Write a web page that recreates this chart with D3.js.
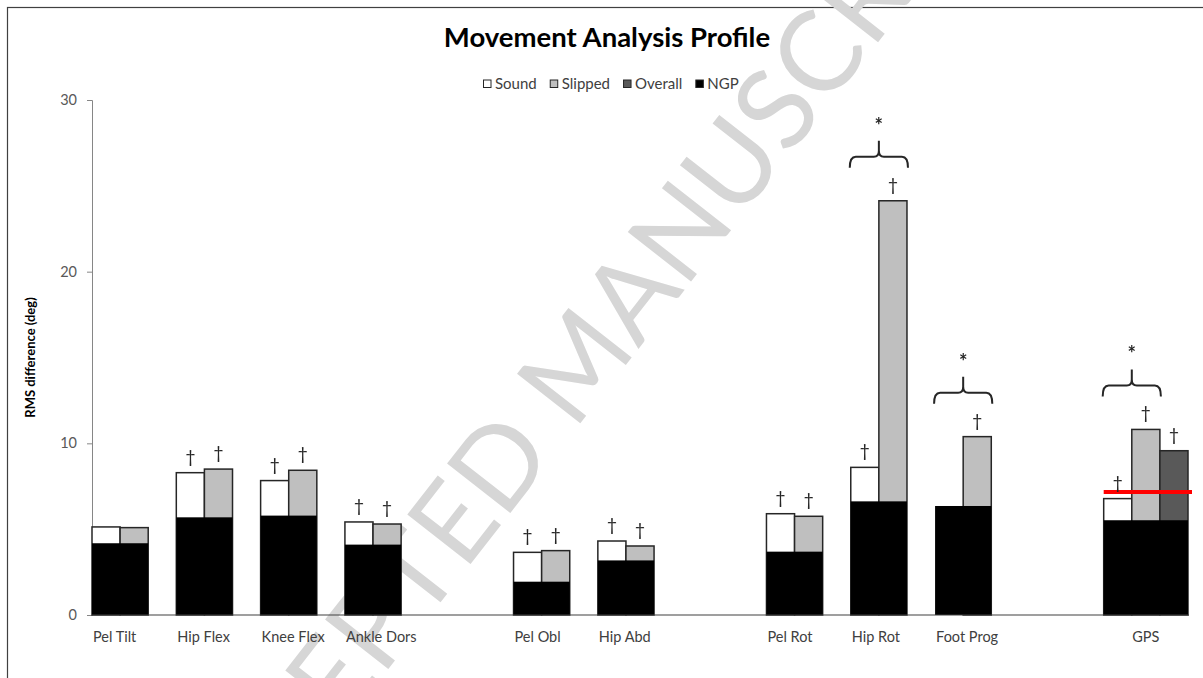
<!DOCTYPE html>
<html>
<head>
<meta charset="utf-8">
<script src="https://cdn.jsdelivr.net/npm/d3@7"></script>
<style>
  html, body { margin: 0; padding: 0; background: #fff; }
  svg { display: block; }
  text { font-family: Lato, "Open Sans", sans-serif; }
</style>
</head>
<body>
<svg id="chart" width="1203" height="678"></svg>
<script>
// Joint-angle slots; blank entries leave a gap between joint groups.
const categories = ["Pel Tilt", "Hip Flex", "Knee Flex", "Ankle Dors", "",
                    "Pel Obl", "Hip Abd", "",
                    "Pel Rot", "Hip Rot", "Foot Prog", "",
                    "GPS"];

// RMS difference (deg) per slot
const ngpValues     = [4.18, 5.69, 5.79, 4.10, null, 1.94, 3.18, null, 3.69, 6.62, 6.35, null, 5.52];
const soundValues   = [5.13, 8.29, 7.83, 5.42, null, 3.65, 4.31, null, 5.90, 8.60, null, null, 6.78];
const slippedValues = [5.09, 8.50, 8.43, 5.30, null, 3.75, 4.02, null, 5.75, 24.13, 10.39, null, 10.81];
const overallValues = [null, null, null, null, null, null, null, null, null, null, null, null, 9.57];

// † markers (difference from normal)
const soundSig   = [false, true, true, true, false, true, true, false, true, true, false, false, true];
const slippedSig = [false, true, true, true, false, true, true, false, true, true, true, false, true];
const overallSig = [false, false, false, false, false, false, false, false, false, false, false, false, true];

// * markers (sound vs slipped)
const groupSig = [false, false, false, false, false, false, false, false, false, true, true, false, true];

// GPS reference level
const gpsReference = 7.17;

const yTicks = [0, 10, 20, 30];

const seriesNames  = ["Sound", "Slipped", "Overall", "NGP"];
const seriesColors = ["#ffffff", "#bfbfbf", "#595959", "#000000"];

const svg = d3.select("#chart");
const W = 1203, H = 678;
const plot = { left: 92, right: 1188, top: 100, bottom: 615 };
const markFont = "'Liberation Sans', Arial, sans-serif";

// Pass-through filter: renders the marker glyphs in their own layer
svg.append("defs").append("filter").attr("id", "flat")
  .append("feOffset").attr("dx", 0).attr("dy", 0);

// Outer chart frame
svg.append("rect")
  .attr("x", 7.5).attr("y", 7.5)
  .attr("width", W + 20).attr("height", H + 20)
  .attr("fill", "none").attr("stroke", "#404040").attr("stroke-width", 1.2);

const x = d3.scaleBand()
  .domain(d3.range(categories.length))
  .range([plot.left, plot.right])
  .paddingInner(0).paddingOuter(0);

const sub = d3.scaleBand()
  .domain([0, 1, 2])
  .range([0, x.bandwidth()]);

const y = d3.scaleLinear().domain([0, 30]).range([plot.bottom, plot.top]);

// Watermark text
svg.append("text")
  .attr("transform", "translate(611, 384) rotate(-52)")
  .attr("text-anchor", "middle")
  .attr("font-size", 112)
  .attr("fill", "#d6d6d6")
  .attr("font-family", "'Liberation Sans', Arial, sans-serif")
  .attr("font-weight", 400)
  .text("ACCEPTED MANUSCRIPT");

// Title
svg.append("text")
  .attr("x", 607).attr("y", 47)
  .attr("text-anchor", "middle")
  .attr("font-size", 27.5).attr("font-weight", 700)
  .attr("fill", "#000")
  .text("Movement Analysis Profile");

// Legend
const legend = svg.append("g").attr("transform", "translate(483, 84)");
let lx = 0;
seriesNames.forEach((name, i) => {
  const g = legend.append("g").attr("transform", `translate(${lx},0)`);
  g.append("rect")
    .attr("x", 0.5).attr("y", -4).attr("width", 7.5).attr("height", 7.5)
    .attr("fill", seriesColors[i]).attr("stroke", "#262626").attr("stroke-width", 1);
  const t = g.append("text")
    .attr("x", 12).attr("y", 5)
    .attr("font-size", 15).attr("fill", "#404040")
    .text(name);
  lx += 12 + t.node().getComputedTextLength() + 13;
});

// Y axis
const yAxis = d3.axisLeft(y).tickValues(yTicks).tickSize(5).tickPadding(10);
const yg = svg.append("g")
  .attr("transform", `translate(${plot.left},0)`)
  .call(yAxis);
yg.select(".domain").attr("stroke", "#868686").attr("stroke-width", 1);
yg.selectAll(".tick line").attr("stroke", "#868686");
yg.selectAll(".tick text")
  .attr("font-family", "Lato, sans-serif").attr("font-size", 14.5).attr("fill", "#595959");

svg.append("text")
  .attr("transform", `translate(35, ${(plot.top + plot.bottom) / 2}) rotate(-90)`)
  .attr("text-anchor", "middle")
  .attr("font-size", 13).attr("font-weight", 700).attr("fill", "#000")
  .text("RMS difference (deg)");

// Bars
const barStroke = "#262626";
const seriesData = [soundValues, slippedValues, overallValues];
const bars = svg.append("g");

categories.forEach((c, i) => {
  const present = seriesData.map(s => s[i] != null);
  const lastIdx = present.lastIndexOf(true);
  if (lastIdx < 0) return;
  const x0 = x(i);
  seriesData.forEach((s, k) => {
    if (s[i] == null) return;
    bars.append("rect")
      .attr("x", x0 + sub(k)).attr("y", y(s[i]))
      .attr("width", sub.bandwidth()).attr("height", y(0) - y(s[i]))
      .attr("fill", seriesColors[k])
      .attr("stroke", barStroke).attr("stroke-width", 1.5);
  });
  if (ngpValues[i] != null) {
    bars.append("rect")
      .attr("x", x0).attr("y", y(ngpValues[i]))
      .attr("width", sub(lastIdx) + sub.bandwidth()).attr("height", y(0) - y(ngpValues[i]))
      .attr("fill", seriesColors[3]);
  }
});

// Baseline
svg.append("line")
  .attr("x1", plot.left).attr("x2", plot.right + 1)
  .attr("y1", y(0)).attr("y2", y(0))
  .attr("stroke", "#404040").attr("stroke-width", 1.2);

// Red reference line across GPS group
const gpsIdx = categories.indexOf("GPS");
svg.append("line")
  .attr("x1", x(gpsIdx)).attr("x2", x(gpsIdx) + x.bandwidth() + 4)
  .attr("y1", y(gpsReference)).attr("y2", y(gpsReference))
  .attr("stroke", "#ff0000").attr("stroke-width", 4);

// Dagger markers
const sigData = [soundSig, slippedSig, overallSig];
const marks = svg.append("g").attr("filter", "url(#flat)");
categories.forEach((c, i) => {
  sigData.forEach((sig, k) => {
    if (!sig[i] || seriesData[k][i] == null) return;
    marks.append("text")
      .attr("x", x(i) + sub(k) + sub.bandwidth() / 2)
      .attr("y", y(seriesData[k][i]) - 10)
      .attr("text-anchor", "middle")
      .attr("font-family", markFont)
      .attr("font-size", 18).attr("fill", "#262626")
      .text("\u2020");
  });
});

// Braces with asterisks
categories.forEach((c, i) => {
  if (!groupSig[i]) return;
  const top = d3.max([soundValues[i], slippedValues[i]].filter(v => v != null));
  const yb = y(top) - 44;
  const x0 = x(i) - 1, x1 = x(i) + 2 * sub.bandwidth() + 1, xm = (x0 + x1) / 2;
  const p = d3.path();
  p.moveTo(x0, yb + 11);
  p.quadraticCurveTo(x0, yb, x0 + 6, yb);
  p.lineTo(xm - 5, yb);
  p.quadraticCurveTo(xm, yb, xm, yb - 6);
  p.lineTo(xm, yb - 16);
  p.moveTo(xm, yb - 6);
  p.quadraticCurveTo(xm, yb, xm + 5, yb);
  p.lineTo(x1 - 6, yb);
  p.quadraticCurveTo(x1, yb, x1, yb + 11);
  marks.append("path").attr("d", p.toString())
    .attr("fill", "none").attr("stroke", "#262626").attr("stroke-width", 2);
  marks.append("text")
    .attr("x", xm).attr("y", yb - 24)
    .attr("text-anchor", "middle")
    .attr("font-family", markFont)
    .attr("font-size", 20).attr("font-weight", 700).attr("fill", "#262626")
    .text("*");
});

// Category labels: left-aligned to each group, GPS centred
const labels = svg.append("g");
categories.forEach((c, i) => {
  if (!c) return;
  const last = i === categories.length - 1;
  labels.append("text")
    .attr("x", last ? x(i) + x.bandwidth() / 2 : x(i) + 1)
    .attr("y", 642)
    .attr("text-anchor", last ? "middle" : "start")
    .attr("font-size", 14.5).attr("fill", "#404040")
    .text(c);
});
</script>
</body>
</html>
